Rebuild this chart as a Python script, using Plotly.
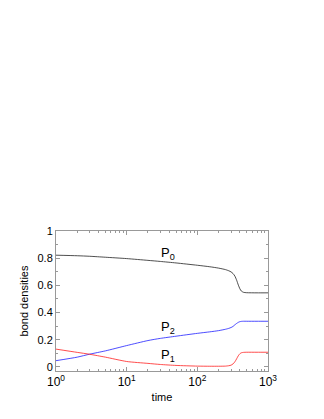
import math
import plotly.graph_objects as go

t = [1, 2, 3, 5, 10, 20, 30, 50, 100, 150, 200, 250, 280, 300, 320, 340, 360, 380, 400, 420, 450, 500, 700, 1000]
P0 = [0.822, 0.818, 0.814, 0.807, 0.797, 0.784, 0.776, 0.765, 0.748, 0.737, 0.727, 0.716, 0.707, 0.699,
      0.687, 0.668, 0.638, 0.603, 0.575, 0.558, 0.549, 0.546, 0.545, 0.545]
P1 = [0.131, 0.107, 0.093, 0.072, 0.040, 0.026, 0.018, 0.011, 0.006, 0.005, 0.005, 0.006, 0.009, 0.013,
      0.022, 0.038, 0.060, 0.082, 0.097, 0.104, 0.107, 0.108, 0.108, 0.108]
P2 = [0.046, 0.072, 0.094, 0.118, 0.157, 0.194, 0.210, 0.226, 0.247, 0.258, 0.267, 0.277, 0.284, 0.290,
      0.298, 0.310, 0.320, 0.328, 0.333, 0.335, 0.336, 0.336, 0.336, 0.336]

x_ticks = [1, 10, 100, 1000]
x_ticktext = ["10<sup>0</sup>", "10<sup>1</sup>", "10<sup>2</sup>", "10<sup>3</sup>"]
y_ticks = [0, 0.2, 0.4, 0.6, 0.8, 1]
y_ticktext = ["0", "0.2", "0.4", "0.6", "0.8", "1"]

labels = ["P<sub>0</sub>", "P<sub>2</sub>", "P<sub>1</sub>"]
label_x = [38, 38, 38]
label_y = [0.834, 0.288, 0.081]

x_minor = [m * 10 ** e for e in range(3) for m in range(2, 10)]
y_minor = [i / 10 for i in range(11)]

font = "Liberation Sans, Arial, sans-serif"

fig = go.Figure()
fig.add_trace(go.Scatter(x=t, y=P0, mode="lines", line=dict(color="#222222", width=0.8, shape="spline", smoothing=0.6)))
fig.add_trace(go.Scatter(x=t, y=P2, mode="lines", line=dict(color="#2020ff", width=0.8, shape="spline", smoothing=0.6)))
fig.add_trace(go.Scatter(x=t, y=P1, mode="lines", line=dict(color="#ff2020", width=0.8, shape="spline", smoothing=0.6)))

for txt, lx, ly in zip(labels, label_x, label_y):
    fig.add_annotation(x=math.log10(lx), y=ly, xref="x", yref="y", text=txt, showarrow=False,
                       font=dict(family=font, size=13, color="black"))

axis_common = dict(showgrid=False, zeroline=False, showline=True, linecolor="#999999", linewidth=1,
                   mirror="ticks", ticks="inside", tickcolor="#999999", ticklen=4)

fig.update_xaxes(type="log", range=[0, 3], tickmode="array", tickvals=x_ticks, ticktext=x_ticktext,
                 tickfont=dict(family=font, size=12, color="black"),
                 title=dict(text="time", font=dict(family=font, size=11, color="black"), standoff=4),
                 minor=dict(ticks="inside", ticklen=2, tickcolor="#999999", tickmode="array", tickvals=x_minor),
                 **axis_common)
fig.update_yaxes(range=[-0.03, 1], tickmode="array", tickvals=y_ticks, ticktext=y_ticktext,
                 tickfont=dict(family=font, size=11, color="black"),
                 title=dict(text="bond densities", font=dict(family=font, size=11, color="black"), standoff=6),
                 minor=dict(ticks="inside", ticklen=2, tickcolor="#999999", tickmode="array", tickvals=y_minor),
                 **axis_common)

fig.update_layout(width=324, height=419, showlegend=False,
                  margin=dict(l=48, r=64, t=223, b=56),
                  plot_bgcolor="white", paper_bgcolor="white",
                  font=dict(family=font))

fig.write_html("out.html")
